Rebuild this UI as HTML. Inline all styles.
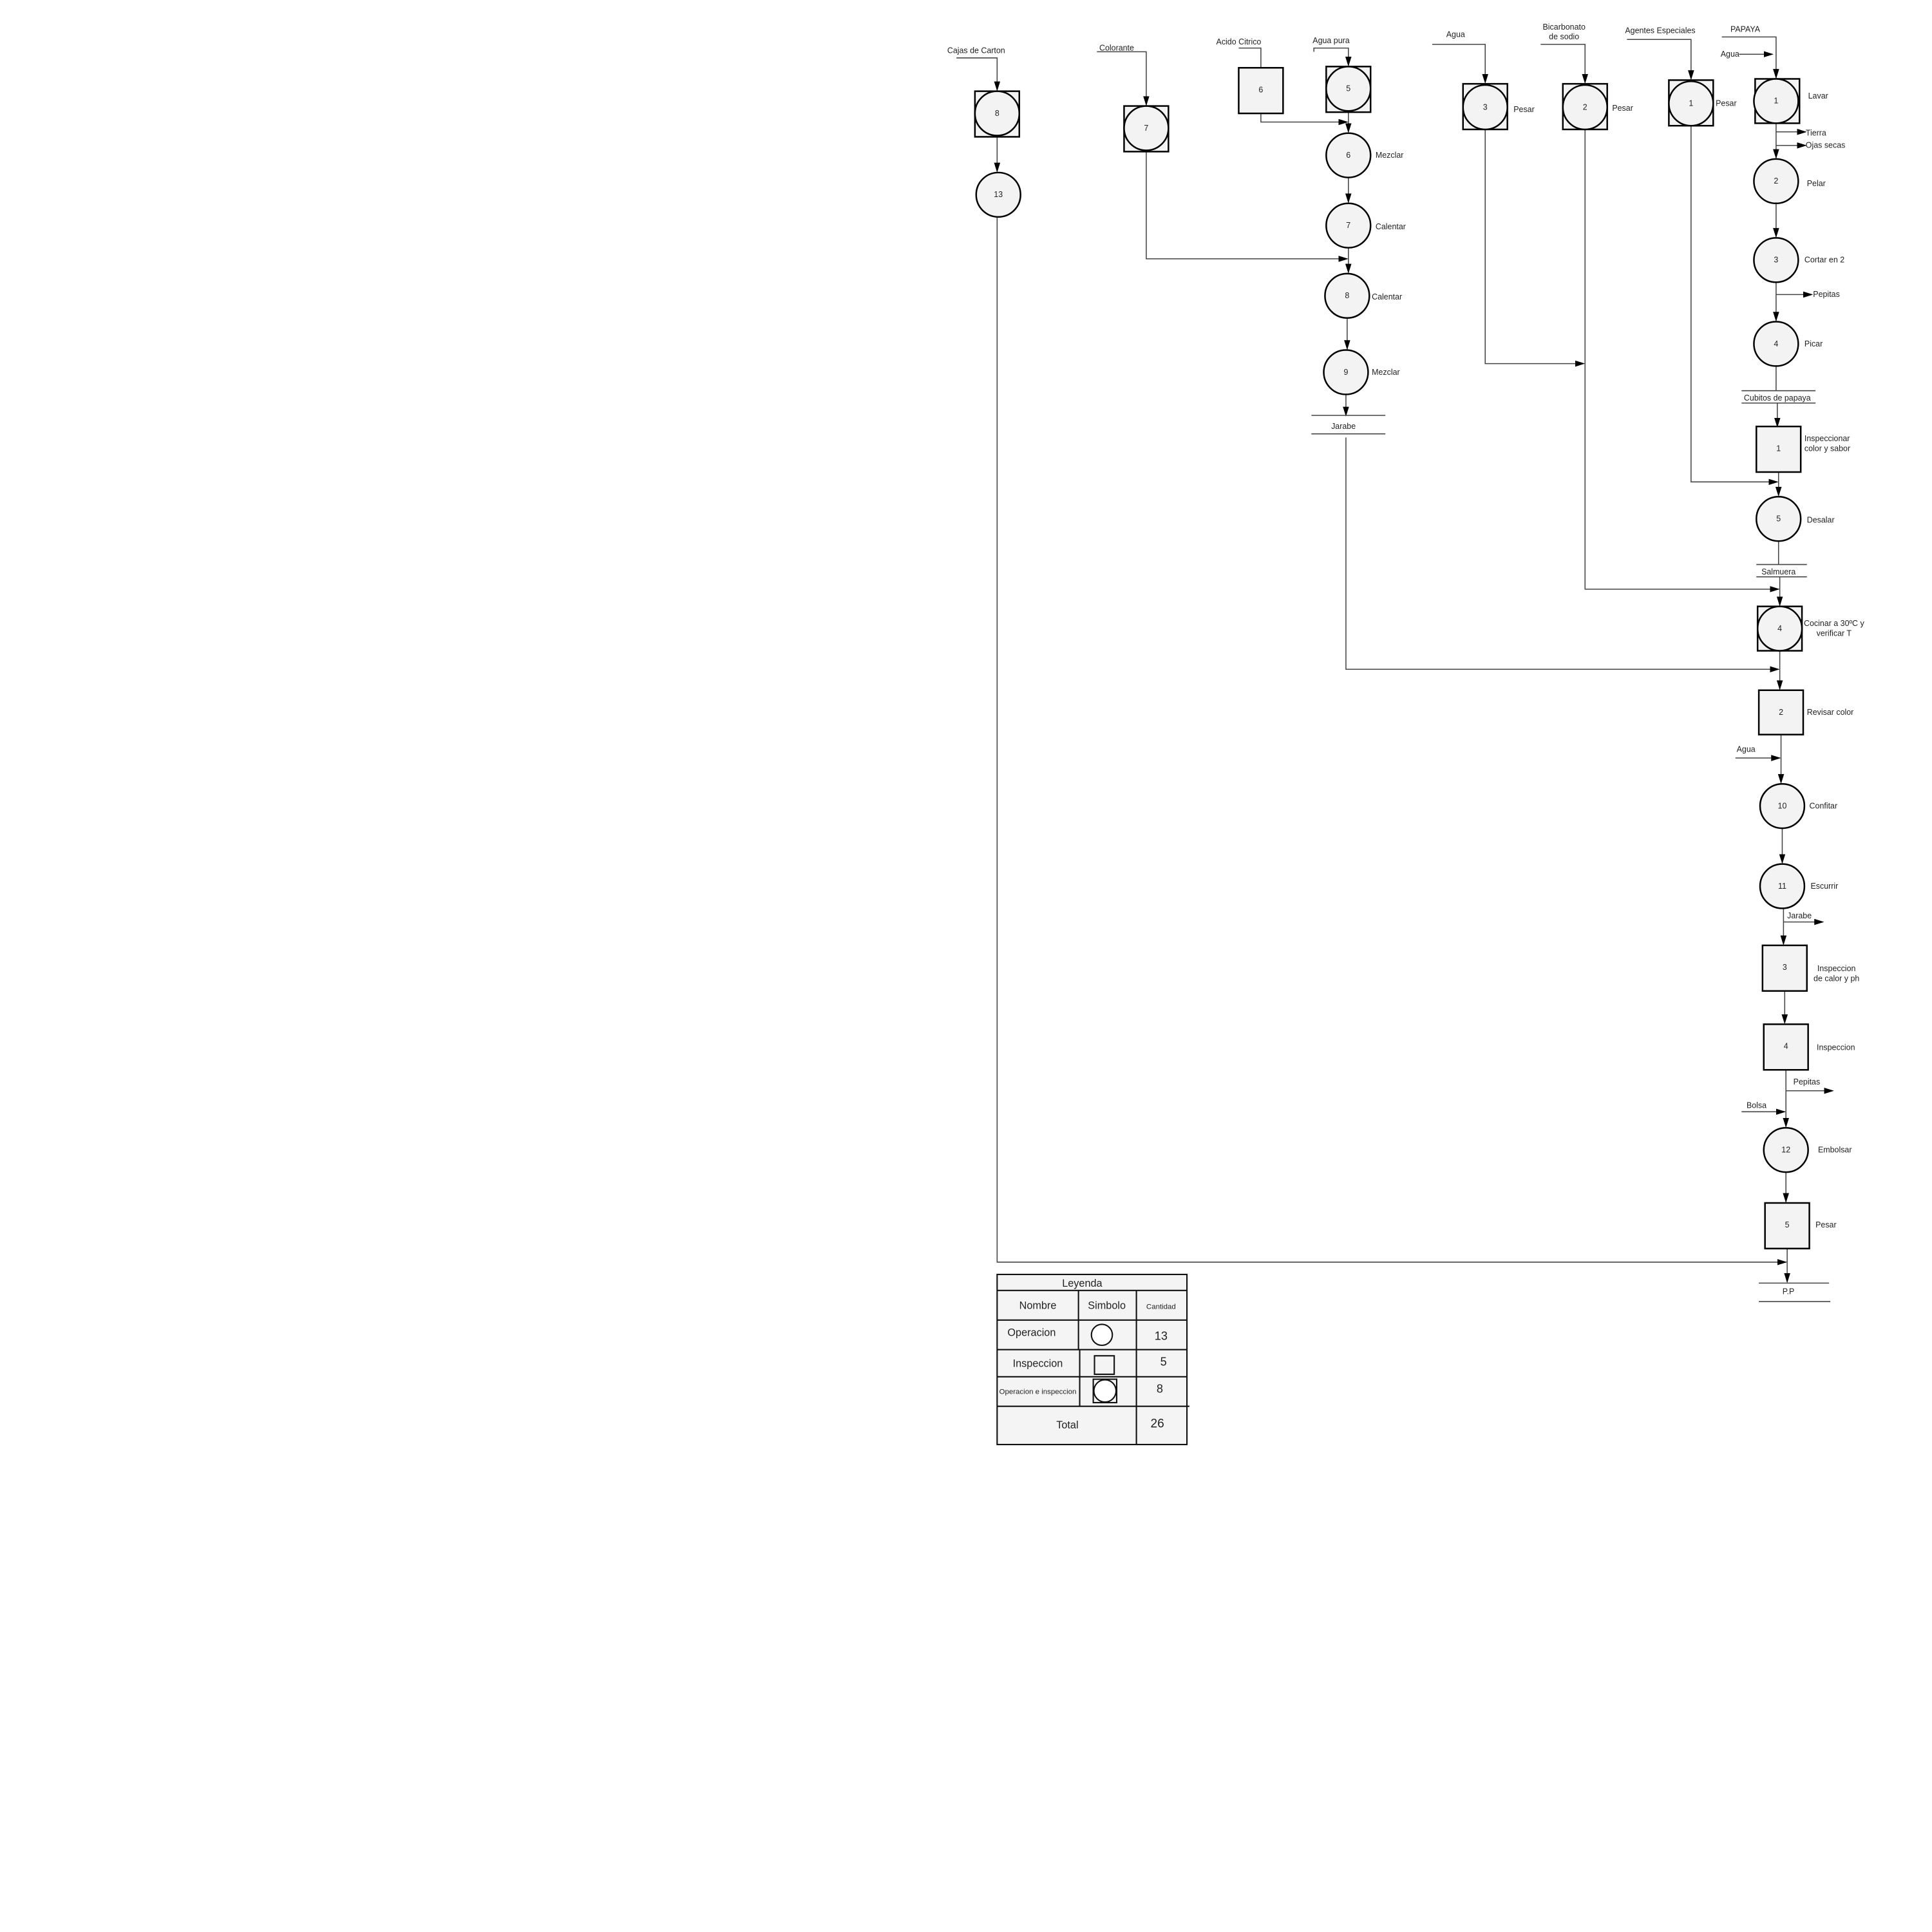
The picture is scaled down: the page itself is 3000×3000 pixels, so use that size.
<!DOCTYPE html>
<html><head><meta charset="utf-8"><style>
html,body{margin:0;padding:0;background:#fff;width:3000px;height:3000px;overflow:hidden}
text{font-family:"Liberation Sans",sans-serif;font-size:6.5px;fill:#222}
.lg text{font-size:8.5px}
.c{fill:#f3f3f3;stroke:#000;stroke-width:1.3}
.s{fill:#f3f3f3;stroke:#000;stroke-width:1.3}
.l{stroke:#444;stroke-width:0.8;fill:none}
</style></head><body>
<svg width="3000" height="3000" viewBox="0 0 1567.5 1567.5" xmlns="http://www.w3.org/2000/svg">
<defs><marker id="a" markerWidth="8" markerHeight="5" refX="7" refY="2.5" orient="auto" markerUnits="userSpaceOnUse"><path d="M0,0 L8,2.5 L0,5z" fill="#000"/></marker></defs>
<g class="l">
<path d="M1397,30 H1441 V63" marker-end="url(#a)"/>
<path d="M1411,44 H1438" marker-end="url(#a)"/>
<path d="M1441,100 V128" marker-end="url(#a)"/>
<path d="M1441,107 H1465" marker-end="url(#a)"/>
<path d="M1441,118 H1465" marker-end="url(#a)"/>
<path d="M1441,165 V192" marker-end="url(#a)"/>
<path d="M1441,229 V260" marker-end="url(#a)"/>
<path d="M1441,239 H1470" marker-end="url(#a)"/>
<path d="M1441,297 V317"/>
<path d="M1413,317 H1473 M1413,327 H1473"/>
<path d="M1442,327 V346" marker-end="url(#a)"/>
<path d="M1443,383 V402" marker-end="url(#a)"/>
<path d="M1372,102 V391 H1442" marker-end="url(#a)"/>
<path d="M1443,439 V458"/>
<path d="M1425,458 H1466 M1425,468 H1466"/>
<path d="M1444,468 V491" marker-end="url(#a)"/>
<path d="M1286,105 V478 H1443" marker-end="url(#a)"/>
<path d="M1444,528 V559" marker-end="url(#a)"/>
<path d="M1092,355 V543 H1443" marker-end="url(#a)"/>
<path d="M1445,596 V635" marker-end="url(#a)"/>
<path d="M1408,615 H1444" marker-end="url(#a)"/>
<path d="M1446,672 V700" marker-end="url(#a)"/>
<path d="M1447,737 V766" marker-end="url(#a)"/>
<path d="M1447,748 H1479" marker-end="url(#a)"/>
<path d="M1448,804 V830" marker-end="url(#a)"/>
<path d="M1449,868 V914" marker-end="url(#a)"/>
<path d="M1449,885 H1487" marker-end="url(#a)"/>
<path d="M1413,902 H1448" marker-end="url(#a)"/>
<path d="M1449,951 V975" marker-end="url(#a)"/>
<path d="M1450,1013 V1040" marker-end="url(#a)"/>
<path d="M809,176 V1024 H1449" marker-end="url(#a)"/>
<path d="M1427,1041 H1484 M1427,1056 H1485"/>
<path d="M1320,32 H1372 V64" marker-end="url(#a)"/>
<path d="M1250,36 H1286 V67" marker-end="url(#a)"/>
<path d="M1162,36 H1205 V67" marker-end="url(#a)"/>
<path d="M1205,105 V295 H1285" marker-end="url(#a)"/>
<path d="M1005,39 H1023 V55"/>
<path d="M1023,92 V99 H1093" marker-end="url(#a)"/>
<path d="M1066,42 V39 H1094 V53" marker-end="url(#a)"/>
<path d="M1094,91 V107" marker-end="url(#a)"/>
<path d="M1094,144 V164" marker-end="url(#a)"/>
<path d="M1094,201 V221" marker-end="url(#a)"/>
<path d="M930,123 V210 H1093" marker-end="url(#a)"/>
<path d="M1093,258 V283" marker-end="url(#a)"/>
<path d="M1092,320 V337" marker-end="url(#a)"/>
<path d="M1064,337 H1124 M1064,352 H1124"/>
<path d="M890,42 H930 V85" marker-end="url(#a)"/>
<path d="M776,47 H809 V73" marker-end="url(#a)"/>
<path d="M809,111 V139" marker-end="url(#a)"/>
</g>
<g>
<rect class="s" x="1424" y="64" width="36" height="36"/><circle class="c" cx="1441" cy="82" r="18"/>
<rect class="s" x="1354" y="65" width="36" height="37"/><circle class="c" cx="1372" cy="84" r="18"/>
<rect class="s" x="1268" y="68" width="36" height="37"/><circle class="c" cx="1286" cy="87" r="18"/>
<rect class="s" x="1187" y="68" width="36" height="37"/><circle class="c" cx="1205" cy="87" r="18"/>
<rect class="s" x="1076" y="54" width="36" height="37"/><circle class="c" cx="1094" cy="72" r="18"/>
<rect class="s" x="912" y="86" width="36" height="37"/><circle class="c" cx="930" cy="104" r="18"/>
<rect class="s" x="791" y="74" width="36" height="37"/><circle class="c" cx="809" cy="92" r="18"/>
<rect class="s" x="1426" y="492" width="36" height="36"/><circle class="c" cx="1444" cy="510" r="18"/>
</g>
<g>
<circle class="c" cx="1441" cy="147" r="18"/>
<circle class="c" cx="1441" cy="211" r="18"/>
<circle class="c" cx="1441" cy="279" r="18"/>
<circle class="c" cx="1443" cy="421" r="18"/>
<circle class="c" cx="1446" cy="654" r="18"/>
<circle class="c" cx="1446" cy="719" r="18"/>
<circle class="c" cx="1449" cy="933" r="18"/>
<circle class="c" cx="1094" cy="126" r="18"/>
<circle class="c" cx="1094" cy="183" r="18"/>
<circle class="c" cx="1093" cy="240" r="18"/>
<circle class="c" cx="1092" cy="302" r="18"/>
<circle class="c" cx="810" cy="158" r="18"/>
<rect class="s" x="1425" y="346" width="36" height="37"/>
<rect class="s" x="1427" y="560" width="36" height="36"/>
<rect class="s" x="1430" y="767" width="36" height="37"/>
<rect class="s" x="1431" y="831" width="36" height="37"/>
<rect class="s" x="1432" y="976" width="36" height="37"/>
<rect class="s" x="1005" y="55" width="36" height="37"/>
</g>
<g text-anchor="middle">
<text x="1441" y="84">1</text><text x="1372" y="86">1</text><text x="1286" y="89">2</text><text x="1205" y="89">3</text>
<text x="1094" y="74">5</text><text x="930" y="106">7</text><text x="809" y="94">8</text><text x="1444" y="512">4</text>
<text x="1441" y="149">2</text><text x="1441" y="213">3</text><text x="1441" y="281">4</text><text x="1443" y="423">5</text>
<text x="1446" y="656">10</text><text x="1446" y="721">11</text><text x="1449" y="935">12</text>
<text x="1094" y="128">6</text><text x="1094" y="185">7</text><text x="1093" y="242">8</text><text x="1092" y="304">9</text><text x="810" y="160">13</text>
<text x="1443" y="366">1</text><text x="1445" y="580">2</text><text x="1448" y="787">3</text><text x="1449" y="851">4</text><text x="1450" y="996">5</text><text x="1023" y="75">6</text>
<text x="1416" y="26">PAPAYA</text><text x="1442" y="325">Cubitos de papaya</text><text x="1443" y="466">Salmuera</text>
<text x="1488" y="508">Cocinar a 30ºC y</text><text x="1488" y="516">verificar T</text>
<text x="1490" y="788">Inspeccion</text><text x="1490" y="796">de calor y ph</text>
<text x="1451" y="1050">P.P</text>
<text x="1347" y="27">Agentes Especiales</text><text x="1269" y="24">Bicarbonato</text><text x="1269" y="32">de sodio</text>
<text x="1181" y="30">Agua</text><text x="1005" y="36">Acido Citrico</text><text x="1080" y="35">Agua pura</text>
<text x="906" y="41">Colorante</text><text x="792" y="43">Cajas de Carton</text><text x="1090" y="348">Jarabe</text>
</g>
<g>
<text x="1396" y="46">Agua</text><text x="1467" y="80">Lavar</text><text x="1465" y="110">Tierra</text><text x="1465" y="120">Ojas secas</text>
<text x="1466" y="151">Pelar</text><text x="1464" y="213">Cortar en 2</text><text x="1471" y="241">Pepitas</text><text x="1464" y="281">Picar</text>
<text x="1464" y="358">Inspeccionar</text><text x="1464" y="366">color y sabor</text><text x="1466" y="424">Desalar</text>
<text x="1466" y="580">Revisar color</text><text x="1409" y="610">Agua</text><text x="1468" y="656">Confitar</text><text x="1469" y="721">Escurrir</text>
<text x="1450" y="745">Jarabe</text><text x="1474" y="852">Inspeccion</text><text x="1455" y="880">Pepitas</text><text x="1417" y="899">Bolsa</text>
<text x="1475" y="935">Embolsar</text><text x="1473" y="996">Pesar</text>
<text x="1392" y="86">Pesar</text><text x="1308" y="90">Pesar</text><text x="1228" y="91">Pesar</text>
<text x="1116" y="128">Mezclar</text><text x="1116" y="186">Calentar</text><text x="1113" y="243">Calentar</text><text x="1113" y="304">Mezclar</text>
</g>
<g stroke="#111" stroke-width="1.1" fill="#f4f4f4">
<rect x="809" y="1034" width="154" height="138"/>
<line x1="809" y1="1047" x2="963" y2="1047"/>
<line x1="809" y1="1071" x2="963" y2="1071"/>
<line x1="809" y1="1095" x2="963" y2="1095"/>
<line x1="809" y1="1117" x2="963" y2="1117"/>
<line x1="809" y1="1141" x2="965" y2="1141"/>
<line x1="875" y1="1047" x2="875" y2="1095"/>
<line x1="876" y1="1095" x2="876" y2="1141"/>
<line x1="922" y1="1047" x2="922" y2="1172"/>
<circle cx="894" cy="1083" r="8.5" fill="#fff"/>
<rect x="888" y="1100" width="16" height="15" fill="#f4f4f4"/>
<rect x="887" y="1119" width="19" height="19"/><circle cx="896.5" cy="1128.5" r="9" fill="#fff"/>
</g>
<g text-anchor="middle" class="lg">
<text x="878" y="1044">Leyenda</text><text x="842" y="1062">Nombre</text><text x="898" y="1062">Simbolo</text>
<text x="942" y="1062" style="font-size:6px">Cantidad</text>
<text x="837" y="1084">Operacion</text><text x="942" y="1087" style="font-size:9.5px">13</text>
<text x="842" y="1109">Inspeccion</text><text x="944" y="1108" style="font-size:9.5px">5</text>
<text x="842" y="1131" style="font-size:6px">Operacion e inspeccion</text><text x="941" y="1130" style="font-size:9.5px">8</text>
<text x="866" y="1159">Total</text><text x="939" y="1158" style="font-size:10px">26</text>
</g>
</svg>
</body></html>
